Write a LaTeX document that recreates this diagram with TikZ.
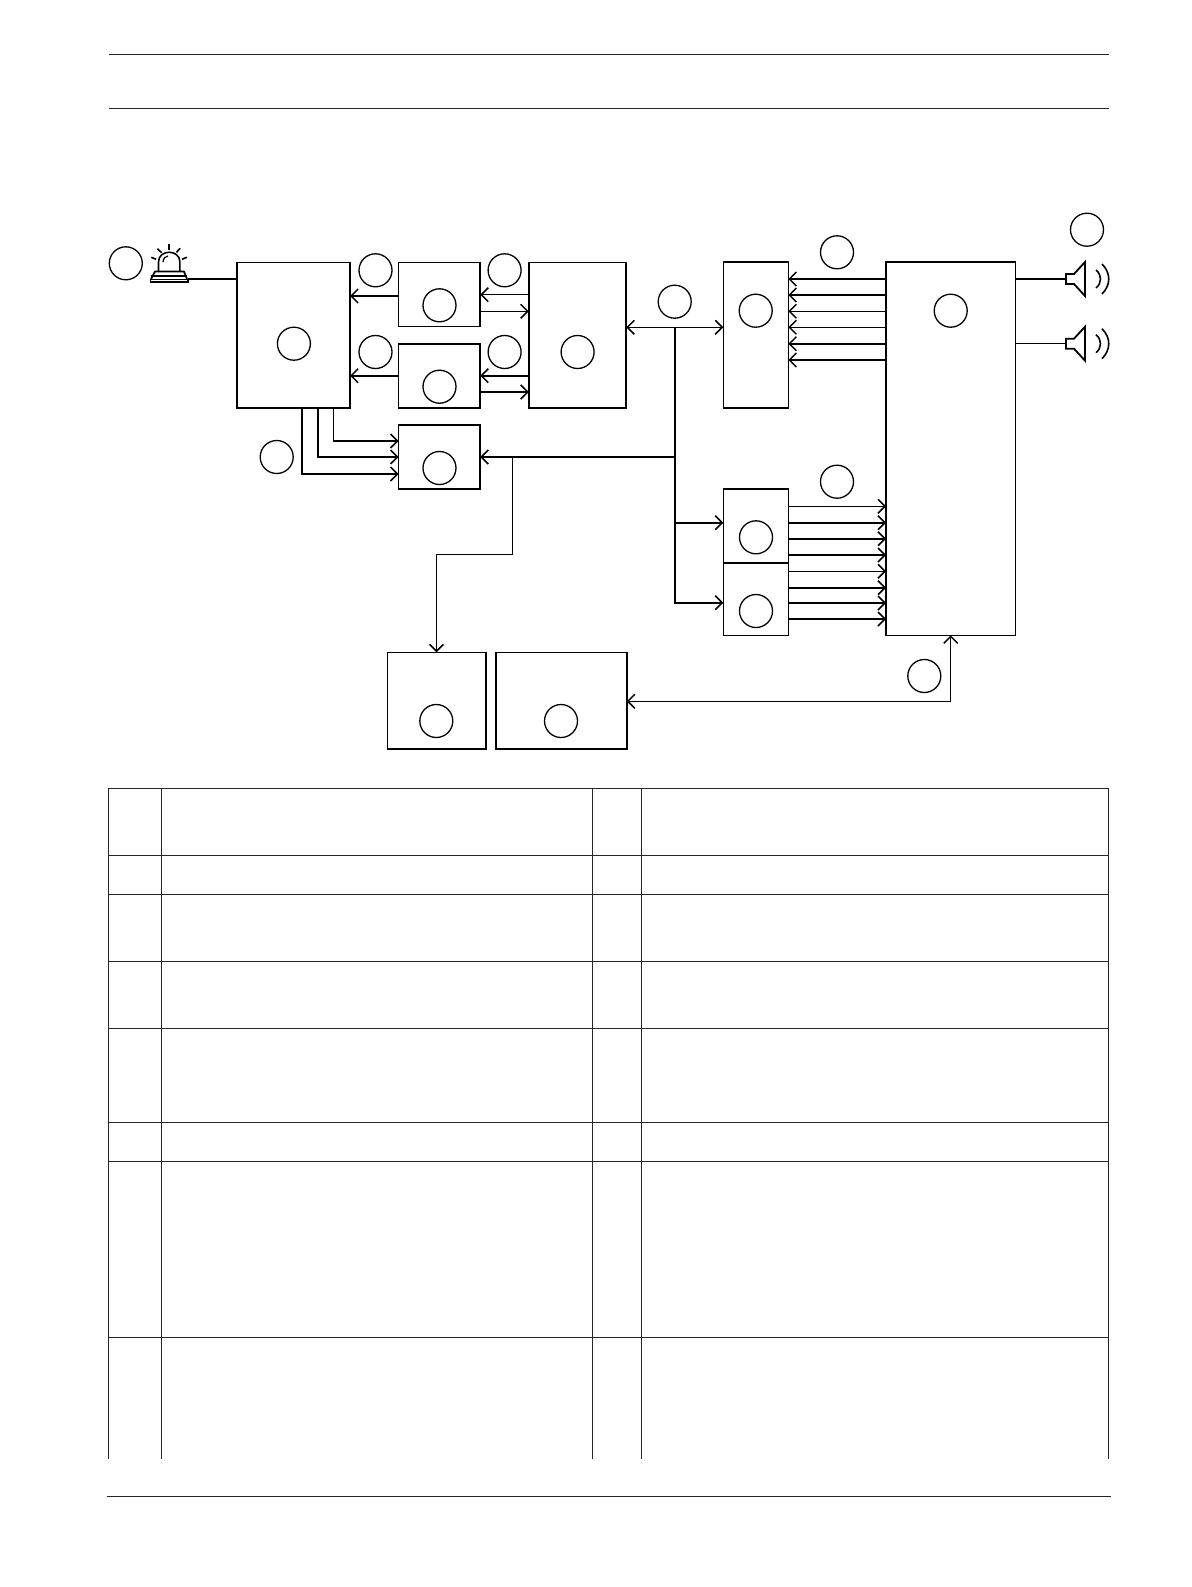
\documentclass[tikz,border=0pt]{standalone}
\usetikzlibrary{arrows.meta}

\tikzset{
	speaker/.pic={
		\draw[line width=1.8pt, line join=miter] (0,-5) -- (8,-5) -- (19,-17) -- (19,17) -- (8,5) -- (0,5) -- cycle;
		\draw[line width=1.6pt] (30,-9) .. controls (36,-4) and (36,4) .. (30,9);
		\draw[line width=1.6pt] (36,-15) .. controls (45,-6) and (45,6) .. (36,15);
	}
}

\begin{document}
\begin{tikzpicture}[x=1pt, y=-1pt,
		blk/.style={rectangle, draw, line width=1.6pt, outer sep=0pt, inner sep=0pt},
		tag/.style={circle, draw, line width=1.3pt, minimum size=33pt, inner sep=0pt},
		thin line/.style={line width=1.3pt},
		bold line/.style={line width=1.9pt},
		rule/.style={line width=1pt, color=black!85},
		>={Straight Barb[length=7pt, width=14pt, line width=1.5pt]}]

	\useasboundingbox (0,0) rectangle (1191,1587);

	% Bloques
	\node[blk, minimum width=113.3, minimum height=145.7] (b1) at (293.4,335.2) {};
	\node[blk, minimum width=81.6, minimum height=64] (b2) at (439.4,294.3) {};
	\node[blk, minimum width=81.6, minimum height=64] (b3) at (439.4,376) {};
	\node[blk, minimum width=81.6, minimum height=64] (b4) at (439.4,457) {};
	\node[blk, minimum width=97.5, minimum height=145.7] (b5) at (577.5,335.2) {};
	\node[blk, minimum width=65, minimum height=146.3] (b6) at (755.8,334.9) {};
	\node[blk, minimum width=129.3, minimum height=373.6] (b7) at (950.7,448.5) {};
	\node[blk, minimum width=65, minimum height=74.3] (b8) at (755.8,525.9) {};
	\node[blk, minimum width=65, minimum height=72.3] (b9) at (755.8,599.2) {};
	\node[blk, minimum width=98.4, minimum height=96.7] (b10) at (436.5,700.7) {};
	\node[blk, minimum width=130.7, minimum height=96.7] (b11) at (561.4,700.7) {};

	% Circulos
	\node[tag] (n1) at (125.8,263.3) {};
	\node[tag] (n2) at (293.9,343.7) {};
	\node[tag] (n3) at (439.5,305.3) {};
	\node[tag] (n4) at (439.5,386.7) {};
	\node[tag] (n5) at (439.5,468) {};
	\node[tag] (n6) at (577.6,352) {};
	\node[tag] (n7) at (375.5,270.3) {};
	\node[tag] (n8) at (504.6,270.3) {};
	\node[tag] (n9) at (375.5,352) {};
	\node[tag] (n10) at (504.6,352) {};
	\node[tag] (n11) at (276.7,457) {};
	\node[tag] (n12) at (674.7,301.7) {};
	\node[tag] (n13) at (755.7,310.7) {};
	\node[tag] (n14) at (837,252.3) {};
	\node[tag] (n15) at (950.7,310.7) {};
	\node[tag] (n16) at (1087,229.7) {};
	\node[tag] (n17) at (756,537.3) {};
	\node[tag] (n18) at (756,611) {};
	\node[tag] (n19) at (837,481.7) {};
	\node[tag] (n20) at (924.3,676) {};
	\node[tag] (n21) at (436.3,721) {};
	\node[tag] (n22) at (561,721) {};

	\coordinate (alarm) at (187.8,279);
	\coordinate (spk1) at (1066,279);
	\coordinate (spk2) at (1066,343.7);
	\coordinate (j1) at (675,327.3);
	\coordinate (j2) at (675,457);
	\coordinate (j3) at (512.7,457);

	% Alarma
	\draw[line width=1.6pt] (158.5,271) -- (158.5,262) .. controls (158.5,249) and (179.9,249) .. (179.9,262) -- (179.9,271);
	\draw[line width=1.3pt] (163,262) .. controls (163.5,258) and (165,256.5) .. (168,256);
	\draw[line width=1.7pt, line join=round] (151,279) -- (155,271.5) -- (184,271.5) -- (187,279);
	\draw[line width=1.7pt] (151,276) -- (187,276);
	\draw[line width=1.7pt] (150.5,279.5) rectangle (188,282);
	\draw[line width=1.6pt] (168.9,244.3) -- (168.9,250);
	\draw[line width=1.6pt] (157.5,248.7) -- (161.6,252.7);
	\draw[line width=1.6pt] (180.2,248.3) -- (176.4,252.3);
	\draw[line width=1.6pt] (151.3,257.3) -- (156.1,259.3);
	\draw[line width=1.6pt] (186.8,257.3) -- (182,259.3);

	% Altavoces
	\pic at (spk1) {speaker};
	\pic at (spk2) {speaker};
	\draw[bold line] (alarm) -- (b1.west |- alarm);
	\draw[bold line] (b7.east |- spk1) -- (spk1);
	\draw[thin line] (b7.east |- spk2) -- (spk2);

	% Conexiones de la izquierda
	\draw[bold line, ->] (b2.west |- 0,296) -- (b1.east |- 0,296);
	\draw[bold line, ->] (b3.west |- 0,375.7) -- (b1.east |- 0,375.7);
	\draw[thin line, ->] (b5.west |- 0,294.7) -- (b2.east |- 0,294.7);
	\draw[thin line, ->] (b2.east |- 0,311.3) -- (b5.west |- 0,311.3);
	\draw[bold line, ->] (b5.west |- 0,375.7) -- (b3.east |- 0,375.7);
	\draw[bold line, ->] (b3.east |- 0,392) -- (b5.west |- 0,392);
	\draw[bold line, ->] (b1.south -| 302.1,0) |- (b4.west |- 0,474);
	\draw[bold line, ->] (b1.south -| 318,0) |- (b4.west |- 0,457);
	\draw[thin line, ->] (b1.south -| 333.5,0) |- (b4.west |- 0,441);

	% Bus central
	\draw[thin line, <->] (b5.east |- j1) -- (b6.west |- j1);
	\draw[bold line] (j1) -- (j2);
	\draw[bold line, ->] (j2) -- (b4.east |- j2);
	\draw[bold line, ->] (j2) |- (b8.west |- 0,522.7);
	\draw[bold line, ->] (j2) |- (b9.west |- 0,602.7);
	\draw[thin line, ->] (j3) |- (b10.north |- 0,554.7) -- (b10.north);
	\draw[thin line, <->] (b11.east |- 0,701.3) -| (b7.south);

	% Conexiones de la derecha
	\foreach \y/\w in {279/bold line, 295/bold line, 311.3/thin line, 327.3/thin line, 343.7/bold line, 360/bold line}
		\draw[\w, ->] (b7.west |- 0,\y) -- (b6.east |- 0,\y);
	\foreach \y/\w in {506.3/thin line, 522.7/bold line, 538.7/bold line, 555/bold line}
		\draw[\w, ->] (b8.east |- 0,\y) -- (b7.west |- 0,\y);
	\foreach \y/\w in {571.3/thin line, 587.7/bold line, 603/bold line, 619/bold line}
		\draw[\w, ->] (b9.east |- 0,\y) -- (b7.west |- 0,\y);

	% Tabla y reglas
	\draw[rule] (109,54.6) -- (1109,54.6);
	\draw[rule] (109,108.3) -- (1109,108.3);
	\draw[rule] (106.6,1496.7) -- (1111.4,1496.7);
	\foreach \x in {108.5,161.6,592.3,641.4,1108.7}
		\draw[rule] (\x,788.3) -- (\x,1458.7);
	\foreach \y in {788.3,855,894.3,961.3,1028.3,1122.2,1161.3,1337.3}
		\draw[rule] (108.5,\y) -- (1108.7,\y);

\end{tikzpicture}
\end{document}
